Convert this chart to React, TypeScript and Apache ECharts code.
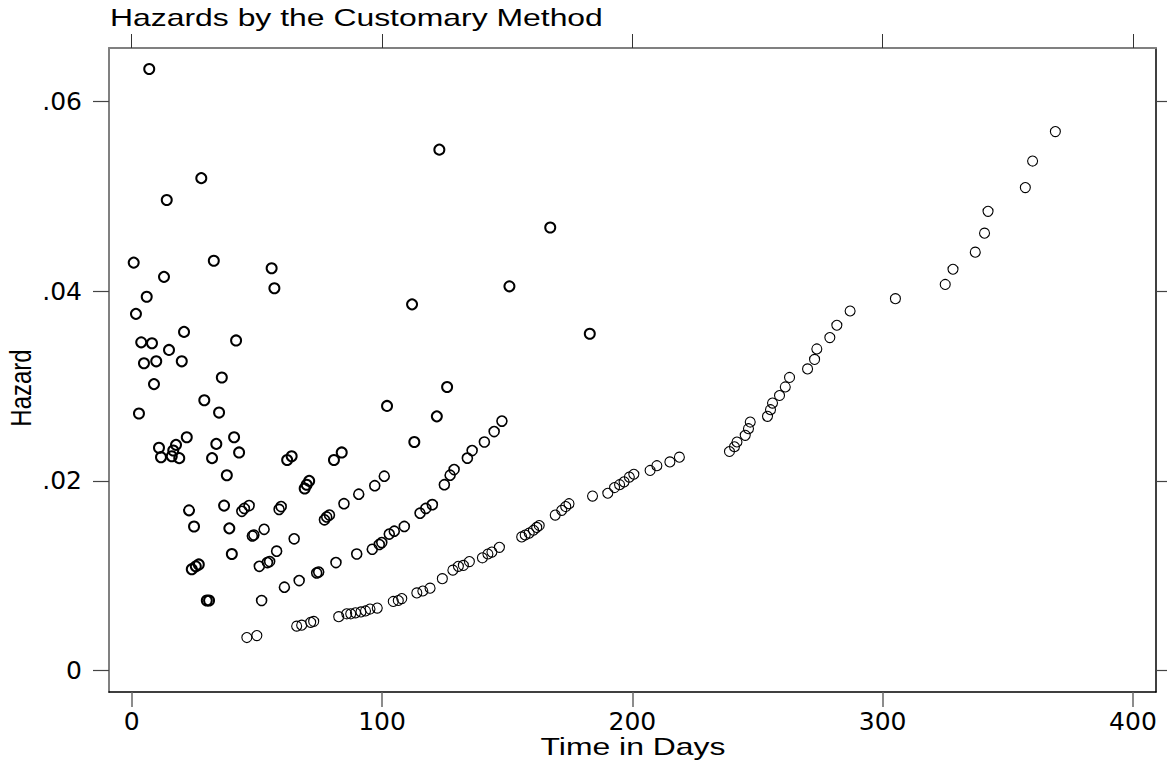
import React, { useEffect, useRef } from "react";
import * as echarts from "echarts";

// Tick values
const xTicks = [0, 100, 200, 300, 400];
const yTicks = [0, 0.02, 0.04, 0.06];

// Scattered early hazards (heavy circles): [time in days, hazard]
const groupA: number[][] = [
  [7.0, 0.0634], [27.8, 0.0519], [14.0, 0.0496], [0.8, 0.043], [32.8, 0.0432],
  [55.9, 0.0424], [57.0, 0.0403], [12.9, 0.0415], [6.0, 0.0394], [1.7, 0.0376],
  [20.9, 0.0357], [41.7, 0.0348], [3.8, 0.0346], [8.1, 0.0345], [14.9, 0.0338],
  [4.9, 0.0324], [9.8, 0.0326], [20.0, 0.0326], [36.0, 0.0309], [8.9, 0.0302],
  [29.0, 0.0285], [34.9, 0.0272], [2.9, 0.0271], [22.0, 0.0246], [40.9, 0.0246],
  [10.9, 0.0235], [17.7, 0.0238], [16.6, 0.0232], [11.7, 0.0225], [16.0, 0.0226],
  [19.0, 0.0224], [33.8, 0.0239], [42.9, 0.023], [32.1, 0.0224], [38.0, 0.0206],
  [36.9, 0.0174], [22.9, 0.0169], [24.9, 0.0152], [39.0, 0.015], [40.0, 0.0123],
  [24.0, 0.0107], [25.6, 0.011], [26.8, 0.0112], [30.0, 0.0074], [30.9, 0.0074],
  [62.1, 0.0222], [63.9, 0.0226], [80.8, 0.0222], [83.9, 0.023],
  [69.1, 0.0192], [69.9, 0.0196], [70.9, 0.02],
  [122.9, 0.0549], [167.2, 0.0467], [150.9, 0.0405], [112.0, 0.0386], [183.0, 0.0355],
  [126.0, 0.0299], [102.0, 0.0279], [121.9, 0.0268], [112.9, 0.0241],
];

// Middle curves (medium circles)
const groupB: number[][] = [
  [44.0, 0.0168], [45.0, 0.0171], [46.9, 0.0174], [58.9, 0.017], [59.7, 0.0173],
  [77.0, 0.0159], [77.9, 0.0162], [79.0, 0.0164], [84.8, 0.0176], [90.7, 0.0186],
  [48.2, 0.0142], [48.8, 0.0143], [52.9, 0.0149], [64.9, 0.0139], [57.9, 0.0126],
  [51.0, 0.011], [54.2, 0.0114], [55.1, 0.0115], [61.0, 0.0088], [66.9, 0.0095],
  [73.9, 0.0103], [74.7, 0.0104], [81.6, 0.0114], [89.9, 0.0123], [51.9, 0.0074],
  [97.1, 0.0195], [100.9, 0.0205],
  [147.9, 0.0263], [144.8, 0.0252], [140.9, 0.0241], [136.0, 0.0232], [134.1, 0.0224],
  [128.8, 0.0212], [127.2, 0.0206], [124.9, 0.0196], [120.1, 0.0175], [117.5, 0.0171],
  [115.2, 0.0166], [108.9, 0.0152], [104.9, 0.0147], [102.9, 0.0144], [99.9, 0.0135],
  [98.9, 0.0133], [96.1, 0.0128],
];

// Lowest curve (light circles)
const groupC: number[][] = [
  [46.0, 0.0035], [50.0, 0.0037], [65.9, 0.0047], [67.9, 0.0048], [71.5, 0.0051],
  [72.7, 0.0052], [82.7, 0.0057], [85.9, 0.006], [87.5, 0.006], [89.4, 0.0061],
  [91.6, 0.0062], [93.4, 0.0063], [95.2, 0.0065], [98.1, 0.0066],
  [104.5, 0.0073], [106.5, 0.0074], [107.9, 0.0076], [113.9, 0.0082], [116.3, 0.0084],
  [119.2, 0.0087], [124.1, 0.0097], [128.3, 0.0106], [130.5, 0.011], [132.5, 0.0111],
  [134.9, 0.0115], [140.1, 0.0119], [142.3, 0.0123], [143.9, 0.0125], [146.9, 0.013],
  [155.8, 0.0141], [157.2, 0.0143], [158.8, 0.0145], [160.5, 0.0148], [161.8, 0.0151],
  [162.8, 0.0153], [169.2, 0.0164], [171.8, 0.0169], [173.4, 0.0173], [174.7, 0.0176],
  [184.1, 0.0184], [190.2, 0.0187], [192.9, 0.0193], [194.9, 0.0196], [196.7, 0.0199],
  [198.8, 0.0204], [200.6, 0.0207], [207.1, 0.0211], [209.8, 0.0216], [215.0, 0.022],
  [218.8, 0.0225], [238.8, 0.0231], [240.8, 0.0236], [241.8, 0.0241], [245.1, 0.0248],
  [246.4, 0.0255], [247.1, 0.0262], [254.0, 0.0268], [255.2, 0.0275], [256.0, 0.0282],
  [258.8, 0.029], [261.1, 0.0299], [262.8, 0.0309], [270.0, 0.0318], [272.8, 0.0328],
  [273.7, 0.0339], [278.9, 0.0351], [281.7, 0.0364], [287.0, 0.0379], [305.1, 0.0392],
  [325.0, 0.0407], [328.1, 0.0423], [337.0, 0.0441], [340.7, 0.0461], [342.1, 0.0484],
  [357.0, 0.0509], [359.9, 0.0537], [369.0, 0.0568],
];

const titleText = "Hazards by the Customary Method";
const xTitle = "Time in Days";
const yTitle = "Hazard";

const X_MIN = -9.07;
const X_MAX = 409.2;
const Y_MIN = -0.00224;
const Y_MAX = 0.06561;

const fmtY = (v: number) =>
  v === 0 ? "0" : "." + String(Math.round(v * 100)).padStart(2, "0");

export default function App() {
  const ref = useRef<HTMLDivElement>(null);
  useEffect(() => {
    if (!ref.current) return;
    const chart = echarts.init(ref.current, null, { renderer: "svg" });
    const labelFont = { fontFamily: "DejaVu Sans", fontSize: 25, color: "#000" };
    const scatter = (data: number[][], w: number, z: number) => ({
      type: "scatter",
      data,
      symbol: "circle",
      symbolSize: 10,
      z,
      itemStyle: { color: "rgba(0,0,0,0)", borderColor: "#000", borderWidth: w, opacity: 1 },
      emphasis: { disabled: true },
    });
    chart.setOption({
      animation: false,
      backgroundColor: "#fff",
      grid: { left: 109, top: 48, right: 11, bottom: 73, containLabel: false },
      xAxis: [
        {
          type: "value",
          position: "bottom",
          min: X_MIN,
          max: X_MAX,
          axisLine: { show: true, onZero: false, lineStyle: { color: "#000", width: 1.5 } },
          axisTick: { show: true, length: 15, customValues: xTicks, lineStyle: { color: "#666", width: 1.5 } },
          axisLabel: { customValues: xTicks, margin: 17, ...labelFont },
          splitLine: { show: false },
        },
        {
          type: "value",
          position: "top",
          min: X_MIN,
          max: X_MAX,
          axisLine: { show: true, onZero: false, lineStyle: { color: "#808080", width: 2 } },
          axisTick: { show: true, length: 14, customValues: xTicks, lineStyle: { color: "#333", width: 1 } },
          axisLabel: { show: false },
          splitLine: { show: false },
        },
      ],
      yAxis: [
        {
          type: "value",
          position: "left",
          min: Y_MIN,
          max: Y_MAX,
          axisLine: { show: true, onZero: false, lineStyle: { color: "#808080", width: 2 } },
          axisTick: { show: true, length: 16, customValues: yTicks, lineStyle: { color: "#444", width: 1.2 } },
          axisLabel: { customValues: yTicks, margin: 27, formatter: fmtY, ...labelFont },
          splitLine: { show: false },
        },
        {
          type: "value",
          position: "right",
          min: Y_MIN,
          max: Y_MAX,
          axisLine: { show: true, onZero: false, lineStyle: { color: "#000", width: 1.5 } },
          axisTick: { show: true, length: 15, customValues: yTicks, lineStyle: { color: "#444", width: 1.2 } },
          axisLabel: { show: false },
          splitLine: { show: false },
        },
      ],
      graphic: [
        {
          type: "text",
          x: 110,
          y: 18,
          scaleX: 1.33,
          style: { text: titleText, fontFamily: "Liberation Sans", fontSize: 24, fill: "#000", align: "left", verticalAlign: "middle" },
        },
        {
          type: "text",
          x: 633,
          y: 747,
          scaleX: 1.33,
          style: { text: xTitle, fontFamily: "Liberation Sans", fontSize: 24, fill: "#000", align: "center", verticalAlign: "middle" },
        },
        {
          type: "text",
          x: 21,
          y: 388,
          rotation: Math.PI / 2,
          scaleY: 1.2,
          style: { text: yTitle, fontFamily: "Liberation Sans", fontSize: 24, fill: "#000", align: "center", verticalAlign: "middle" },
        },
      ],
      series: [scatter(groupC, 1.1, 2), scatter(groupB, 1.6, 3), scatter(groupA, 2, 4)],
    });
    return () => chart.dispose();
  }, []);
  return (
    <div
      ref={ref}
      style={{ position: "absolute", left: 0, top: 0, width: 1167, height: 765, background: "#fff" }}
    />
  );
}
